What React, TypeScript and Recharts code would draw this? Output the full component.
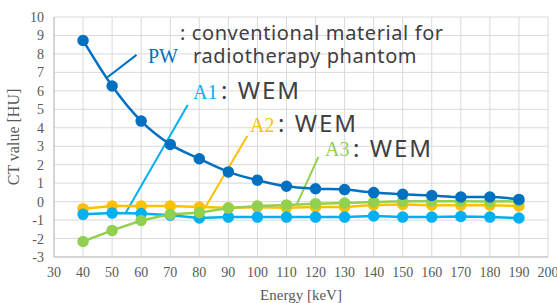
import React from 'react';
import { LineChart, Line, XAxis, YAxis, CartesianGrid, ReferenceLine } from 'recharts';

const energies = [40, 50, 60, 70, 80, 90, 100, 110, 120, 130, 140, 150, 160, 170, 180, 190];
const pw = [8.73, 6.26, 4.36, 3.1, 2.32, 1.61, 1.16, 0.83, 0.7, 0.65, 0.49, 0.4, 0.33, 0.25, 0.25, 0.12];
const a1 = [-0.69, -0.62, -0.65, -0.74, -0.89, -0.84, -0.84, -0.84, -0.84, -0.84, -0.78, -0.84, -0.84, -0.8, -0.84, -0.89];
const a2 = [-0.38, -0.24, -0.24, -0.24, -0.29, -0.33, -0.3, -0.33, -0.29, -0.29, -0.18, -0.15, -0.2, -0.2, -0.2, -0.24];
const a3 = [-2.16, -1.56, -1.02, -0.69, -0.6, -0.35, -0.24, -0.18, -0.11, -0.08, -0.02, 0.02, 0.02, 0.02, 0.0, 0.02];
const xTicks = [30, 40, 50, 60, 70, 80, 90, 100, 110, 120, 130, 140, 150, 160, 170, 180, 190, 200];
const yTicks = [-3, -2, -1, 0, 1, 2, 3, 4, 5, 6, 7, 8, 9, 10];

const pointers = [
  { from: [48.4, 6.74], to: [58.4, 7.95], color: '#0070C0' },
  { from: [54.7, -0.6], to: [76.0, 5.23], color: '#00B0F0' },
  { from: [81.9, -0.35], to: [96.5, 3.55], color: '#FFC000' },
  { from: [113.5, -0.16], to: [121.0, 2.42], color: '#92D050' },
];

const data = energies.map((e, i) => ({ e, pw: pw[i], a1: a1[i], a2: a2[i], a3: a3[i] }));

const serif = '"Liberation Serif", "DejaVu Serif", serif';
const sans = '"Noto Sans", "Open Sans", sans-serif';
const textGray = '#404040';
const axisGray = '#595959';

export default function App() {
  return (
    <div style={{ position: 'absolute', left: 0, top: 0, width: 557, height: 303 }}>
      <LineChart width={557} height={303} data={data} margin={{ top: 17, right: 9, bottom: 0, left: 0 }}>
        <CartesianGrid stroke="#D9D9D9" strokeWidth={1} />
        <XAxis
          dataKey="e"
          type="number"
          domain={[30, 200]}
          ticks={xTicks}
          interval={0}
          height={46}
          stroke="#BFBFBF"
          tickLine={false}
          tickSize={0}
          tickMargin={10}
          tick={{ fill: axisGray, fontSize: 14, fontFamily: serif }}
          label={{ value: 'Energy [keV]', position: 'insideBottom', offset: 3, fill: axisGray, fontSize: 15, fontFamily: serif }}
        />
        <YAxis
          type="number"
          domain={[-3, 10]}
          ticks={yTicks}
          interval={0}
          width={54}
          stroke="#BFBFBF"
          tickLine={false}
          tickSize={0}
          tickMargin={10}
          tick={{ fill: axisGray, fontSize: 14, fontFamily: serif }}
          label={{ value: 'CT value [HU]', angle: -90, position: 'insideLeft', offset: 13, fill: axisGray, fontSize: 16, fontFamily: serif, style: { textAnchor: 'middle' } }}
        />
        {pointers.map((p, i) => (
          <ReferenceLine
            key={i}
            segment={[{ x: p.from[0], y: p.from[1] }, { x: p.to[0], y: p.to[1] }]}
            stroke={p.color}
            strokeWidth={2}
            ifOverflow="visible"
          />
        ))}
        <Line dataKey="a2" stroke="#FFC000" strokeWidth={2.5} dot={{ r: 4.5, fill: '#FFC000', stroke: '#FFC000' }} isAnimationActive={false} />
        <Line dataKey="a1" stroke="#00B0F0" strokeWidth={2.5} dot={{ r: 4.5, fill: '#00B0F0', stroke: '#00B0F0' }} isAnimationActive={false} />
        <Line dataKey="a3" stroke="#92D050" strokeWidth={2.5} dot={{ r: 4.5, fill: '#92D050', stroke: '#92D050' }} isAnimationActive={false} />
        <Line dataKey="pw" stroke="#0070C0" strokeWidth={2.5} type="monotone" dot={{ r: 4.5, fill: '#0070C0', stroke: '#0070C0' }} isAnimationActive={false} />
      </LineChart>
      <svg width={557} height={303} style={{ position: 'absolute', left: 0, top: 0, pointerEvents: 'none' }}>
        <text fontFamily={sans} fontSize={20} fill={textGray} letterSpacing={0.6}>
          <tspan x={180} y={40}>: conventional material for</tspan>
          <tspan x={193} y={63}>radiotherapy phantom</tspan>
        </text>
        <text x={148} y={63} fontFamily={serif} fontSize={20} fill="#0070C0">PW</text>
        <text x={193} y={99} fontFamily={serif} fontSize={20} fill="#00B0F0">A1</text>
        <text x={221} y={99} fontFamily={sans} fontSize={24} fill={textGray} letterSpacing={2}>: WEM</text>
        <text x={250} y={132} fontFamily={serif} fontSize={20} fill="#FFC000">A2</text>
        <text x={278} y={132} fontFamily={sans} fontSize={24} fill={textGray} letterSpacing={2}>: WEM</text>
        <text x={325} y={156} fontFamily={serif} fontSize={20} fill="#92D050">A3</text>
        <text x={353} y={157} fontFamily={sans} fontSize={24} fill={textGray} letterSpacing={2}>: WEM</text>
      </svg>
    </div>
  );
}
